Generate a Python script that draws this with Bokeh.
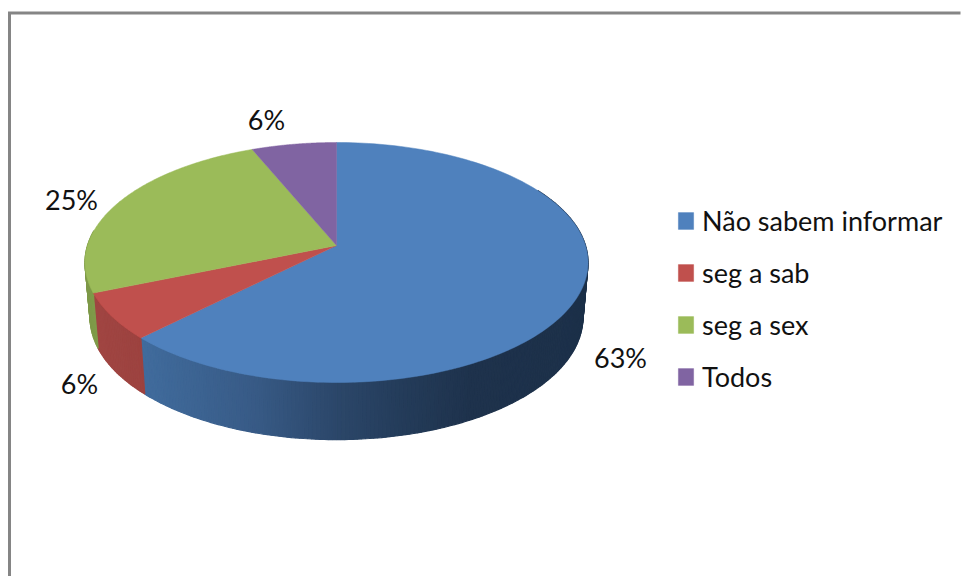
import numpy as np
from bokeh.core.properties import value
from bokeh.embed import file_html
from bokeh.models import Legend, LegendItem
from bokeh.plotting import figure
from bokeh.resources import INLINE

categories = ["Não sabem informar", "seg a sab", "seg a sex", "Todos"]
shares = [62.5, 6.25, 25.0, 6.25]
percent_labels = ["63%", "6%", "25%", "6%"]
top_colors = ["#4f81bd", "#c0504d", "#9bbb59", "#8064a2"]
label_x = [620, 79, 71, 266]
label_y = [356.5, 382.5, 198.5, 118.5]

# projection of the tilted disc, in reference pixels
CX, TIP_Y, K, H, W = 336.0, 245.0, 249.0, 117.6, 0.1417
K2, H2, C2 = 244.0, 120.0, 299.3


def top_rim(t):
    u, v = np.sin(t), np.cos(t)
    d = 1 + W * v
    return CX + K * u / d, TIP_Y - H * v / d


def low_rim(t):
    u, v = np.sin(t), np.cos(t)
    d = 1 + W * v
    return CX + K2 * u / d, C2 - H2 * v / d


def mix(stops, x):
    xs = [s[0] for s in stops]
    rgb = [np.interp(x, xs, [s[1][i] for s in stops]) for i in range(3)]
    return "#%02x%02x%02x" % tuple(int(round(c)) for c in rgb)


blue_wall = [(145, (64, 107, 156)), (250, (56, 91, 135)), (340, (43, 70, 104)),
             (400, (36, 60, 90)), (470, (30, 50, 76)), (590, (28, 48, 73))]
red_wall = [(97, (160, 69, 66)), (145, (156, 66, 63))]
green_wall = [(84, (125, 152, 72)), (97, (128, 156, 74))]

p = figure(width=961, height=576, x_range=(0, 961), y_range=(576, 0),
           output_backend="svg", toolbar_location=None, min_border=0,
           outline_line_color=None, background_fill_color="white",
           border_fill_color="white")
p.axis.visible = False
p.grid.visible = False

edges = np.radians(np.cumsum([0] + shares) * 3.6)


def wall(start, end, stops):
    steps = max(int(np.degrees(end - start) * 1.2), 2)
    ts = np.linspace(start, end, steps + 1)
    xa, ya, cols = [], [], []
    for a, b in zip(ts[:-1], ts[1:]):
        x1, y1 = top_rim(np.array([a, b]))
        x2, y2 = low_rim(np.array([b, a]))
        xa.append(list(x1) + list(x2))
        ya.append(list(y1) + list(y2))
        cols.append(mix(stops, (x1.mean() + x2.mean()) / 2))
    p.patches(xa, ya, fill_color=cols, line_color=cols, line_width=1.2)


wall(edges[0] + np.radians(60), edges[1], blue_wall)
wall(edges[1], edges[2], red_wall)
wall(edges[2], edges[2] + np.radians(30), green_wall)

items = []
for i, name in enumerate(categories):
    ts = np.linspace(edges[i], edges[i + 1], 160)
    x, y = top_rim(ts)
    r = p.patch([CX] + list(x), [TIP_Y] + list(y), fill_color=top_colors[i],
                line_color=top_colors[i], line_width=0.5)
    items.append(LegendItem(label=name, renderers=[r]))

p.text(label_x, label_y, text=percent_labels, text_font=value("Lato"),
       text_font_size="27px", text_color="#111111",
       text_align="center", text_baseline="middle")

legend = Legend(items=items, location=(676, 183), orientation="vertical",
                padding=0, margin=0, spacing=19, glyph_width=19, glyph_height=21,
                label_standoff=7, label_text_font="Lato",
                label_text_font_size="27px", label_text_color="#111111",
                border_line_color=None, background_fill_alpha=0)
p.add_layout(legend, "center")

p.line([9, 9, 960], [576, 12.5, 12.5], line_color="#858585", line_width=3,
       line_join="miter")

open("out.html", "w").write(file_html(p, INLINE))
